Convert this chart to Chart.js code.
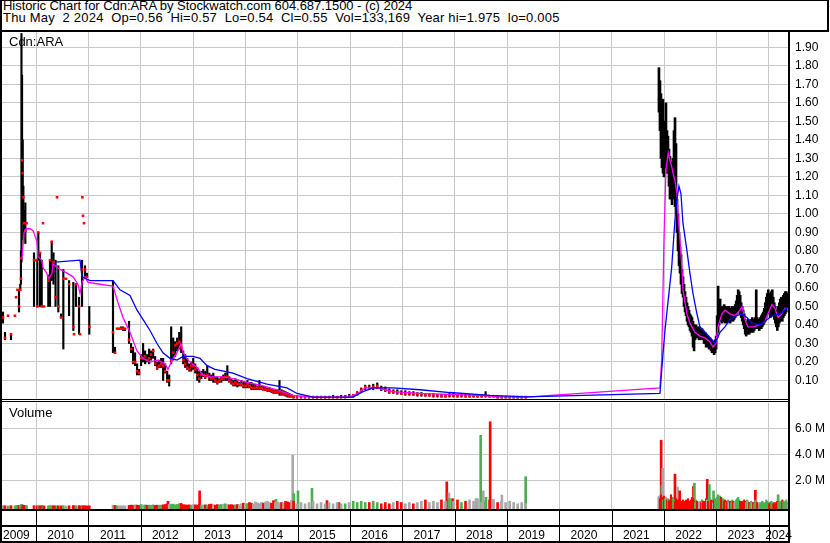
<!DOCTYPE html>
<html><head><meta charset="utf-8">
<script src="https://cdn.jsdelivr.net/npm/chart.js@4.4.1/dist/chart.umd.min.js"></script>
<style>
html,body{margin:0;padding:0;background:#fff;}
#wrap{position:relative;width:830px;height:543px;overflow:hidden;background:#fff;font-family:"Liberation Sans",Arial,sans-serif;color:#000;}
.ln{position:absolute;background:#000;}
.hd{position:absolute;left:3px;font-size:13px;line-height:13px;white-space:pre;letter-spacing:0.2px;}
.lbl{position:absolute;font-size:13px;line-height:15px;white-space:pre;}
canvas{position:absolute;left:0;}
</style></head><body>
<div id="wrap">
 <canvas id="pc" width="830" height="367" style="top:32px"></canvas>
 <canvas id="vc" width="830" height="140" style="top:403px"></canvas>
 <div class="hd" style="top:-1px;letter-spacing:-0.05px">Historic Chart for Cdn:ARA by Stockwatch.com 604.687.1500 - (c) 2024</div>
 <div class="hd" style="top:10.5px">Thu May  2 2024  Op=0.56  Hi=0.57  Lo=0.54  Cl=0.55  Vol=133,169  Year hi=1.975  lo=0.005</div>
 <div class="lbl" style="top:34px;left:9px">Cdn:ARA</div>
 <div class="lbl" style="top:405px;left:9px">Volume</div>
 <div class="ln" style="left:0;top:0;width:2px;height:543px"></div>
 <div class="ln" style="left:0;top:0;width:829px;height:1px"></div>
 <div class="ln" style="left:827px;top:0;width:2px;height:32px"></div>
 <div class="ln" style="left:0;top:30px;width:829px;height:2px"></div>
 <div class="ln" style="left:788px;top:30px;width:2px;height:513px"></div>
 <div class="ln" style="left:0;top:399px;width:790px;height:1px"></div>
 <div class="ln" style="left:0;top:401px;width:790px;height:1px"></div>
 <div class="ln" style="left:0;top:509px;width:790px;height:2px"></div>
 <div class="ln" style="left:0;top:525px;width:790px;height:2px"></div>
 <div class="ln" style="left:0;top:541px;width:790px;height:2px"></div>
</div>
<script>
// ---------------- DATA ----------------
const X_MIN = 2009.35, X_MAX = 2024.388;
const yearTicks = [2010,2011,2012,2013,2014,2015,2016,2017,2018,2019,2020,2021,2022,2023,2024];
const yearLabels = ['2009','2010','2011','2012','2013','2014','2015','2016','2017','2018','2019','2020','2021','2022','2023','2024'];
const priceTicks = [0.1,0.2,0.3,0.4,0.5,0.6,0.7,0.8,0.9,1.0,1.1,1.2,1.3,1.4,1.5,1.6,1.7,1.8,1.9];
const volTicks = [2,4,6];

// early, irregular trades (decimal years)
const earlyDates = [2009.369,2009.407,2009.465,2009.522,2009.598,2009.618,2009.646,2009.675,2009.699,2009.712,2009.722,2009.733,2009.746,2009.758,2009.771,2009.796,2009.818,2009.962,2010.000,2010.025,2010.044,2010.076,2010.109,2010.134,2010.153,2010.235,2010.267,2010.300,2010.334,2010.373,2010.401,2010.426,2010.478,2010.522,2010.573,2010.631,2010.713,2010.726,2010.764,2010.822,2010.841,2010.879,2010.885,2010.898,2010.917,2010.936,2010.974,2011.018];
const earlyLo = [0.41,0.32,0.45,0.32,0.45,0.55,0.59,0.47,0.59,0.62,0.74,1.05,0.95,0.86,0.91,0.84,0.95,0.50,0.75,0.50,0.75,0.50,0.50,0.95,0.50,0.50,0.50,0.64,0.62,0.50,1.09,0.47,0.44,0.27,0.65,0.45,0.37,0.35,0.50,0.35,0.35,0.50,1.09,0.99,0.95,0.66,0.66,0.35];
const earlyHi = [0.47,0.36,0.45,0.35,0.45,0.55,0.59,0.59,0.62,0.80,1.975,1.75,1.40,1.15,1.02,1.06,0.95,0.79,0.75,0.75,0.90,0.79,0.75,0.95,0.50,0.67,0.75,0.85,0.79,0.75,1.09,0.72,0.46,0.70,0.65,0.64,0.63,0.35,0.62,0.55,0.35,0.75,1.09,0.99,0.95,0.72,0.68,0.50];
const earlyCl = [0.44,0.33,0.45,0.35,0.45,0.55,0.59,0.50,0.59,0.65,0.76,1.29,1.22,1.09,0.95,0.91,0.95,0.75,0.75,0.50,0.90,0.79,0.50,0.95,0.50,0.64,0.75,0.85,0.74,0.55,1.09,0.50,0.44,0.65,0.65,0.62,0.39,0.35,0.62,0.50,0.35,0.70,1.09,0.99,0.95,0.70,0.66,0.39];
const earlyVol = [0.06,0.05,0.04,0.06,0.04,0.05,0.08,0.06,0.07,0.10,0.15,0.12,0.10,0.08,0.07,0.06,0.05,0.06,0.04,0.05,0.05,0.04,0.06,0.03,0.04,0.05,0.06,0.05,0.06,0.04,0.03,0.05,0.04,0.06,0.03,0.05,0.06,0.04,0.05,0.06,0.03,0.06,0.03,0.03,0.03,0.05,0.04,0.05];

// 2011-2014: one bar every 2 weeks from midStart
const midStart = 2011.471;
const midLo = [0.25,0.25,0.38,0.38,0.38,0.37,0.37,null,0.30,0.25,0.19,0.18,0.13,0.13,0.18,0.20,0.19,0.20,0.19,0.21,0.22,0.18,0.16,0.17,0.17,0.10,0.14,0.09,0.07,0.19,0.21,0.23,0.26,0.27,0.25,0.19,0.17,0.16,0.15,0.15,0.16,0.14,0.10,0.09,0.11,0.12,0.11,0.12,0.10,0.10,0.09,0.09,0.08,0.09,0.09,0.10,0.10,0.10,0.09,0.08,0.07,0.07,0.065,0.07,0.07,0.06,0.06,0.06,0.06,0.05,0.05,0.05,0.05,0.05,0.05,0.05,0.045,0.04,0.04,0.035,0.03,0.03,0.03,0.02,0.02,0.02,0.015,0.01,0.01,0.01,0.005];
const midHi = [0.64,0.28,0.38,0.38,0.39,0.39,0.38,null,0.42,0.30,0.28,0.25,0.19,0.16,0.24,0.30,0.26,0.24,0.27,0.26,0.27,0.23,0.20,0.21,0.22,0.22,0.19,0.15,0.13,0.39,0.33,0.31,0.33,0.36,0.39,0.26,0.24,0.22,0.19,0.20,0.22,0.19,0.17,0.15,0.15,0.16,0.15,0.18,0.14,0.13,0.14,0.12,0.12,0.11,0.12,0.13,0.14,0.18,0.12,0.11,0.10,0.11,0.10,0.09,0.10,0.09,0.09,0.10,0.09,0.09,0.08,0.08,0.07,0.10,0.07,0.07,0.065,0.06,0.06,0.055,0.05,0.05,0.05,0.10,0.05,0.045,0.04,0.035,0.03,0.025,0.02];
const midCl = [0.36,0.25,0.38,0.38,0.38,0.38,0.38,null,0.32,0.27,0.20,0.20,0.15,0.14,0.22,0.22,0.23,0.21,0.22,0.24,0.26,0.19,0.17,0.18,0.19,0.18,0.15,0.10,0.10,0.21,0.25,0.29,0.30,0.31,0.28,0.21,0.19,0.17,0.16,0.18,0.18,0.16,0.13,0.11,0.13,0.13,0.12,0.13,0.12,0.11,0.11,0.10,0.09,0.10,0.11,0.11,0.12,0.12,0.10,0.09,0.08,0.09,0.08,0.08,0.08,0.07,0.07,0.08,0.07,0.06,0.06,0.06,0.06,0.06,0.06,0.05,0.05,0.05,0.05,0.045,0.04,0.04,0.04,0.04,0.03,0.03,0.025,0.02,0.015,0.015,0.01];
const midVol = [0.10,0.08,0.05,0.04,0.05,0.04,0.05,null,0.08,0.10,0.09,0.12,0.10,0.08,0.15,0.10,0.12,0.09,0.10,0.08,0.12,0.08,0.10,0.09,0.10,0.12,0.15,0.20,0.15,0.15,0.18,0.12,0.15,0.20,0.16,0.14,0.12,0.10,0.12,0.10,0.14,0.12,0.10,0.15,0.12,0.10,0.12,0.10,0.15,0.18,0.12,0.10,0.14,0.12,0.15,0.18,0.20,0.15,0.12,0.14,0.10,0.12,0.15,0.14,0.20,0.25,0.18,0.22,0.30,0.25,0.20,0.35,0.28,0.22,0.30,0.25,0.35,0.40,0.30,0.25,0.45,0.30,0.35,0.28,0.30,0.25,0.40,0.35,0.30,0.45,0.40];

// 2015-2019: one bar every 4 weeks from lowStart
const lowStart = 2014.987;
const lowLo = [0.005,0.005,0.005,0.005,0.005,0.005,0.005,0.005,0.005,0.005,0.005,0.005,0.005,0.01,0.01,0.02,0.04,0.05,0.05,0.05,0.055,0.045,0.04,0.03,0.03,0.025,0.025,0.02,0.02,0.02,0.015,0.015,0.015,0.015,0.01,0.01,0.01,0.01,0.01,0.01,0.01,0.01,0.01,0.01,0.01,0.01,0.01,0.01,0.01,0.01,0.005,0.005,0.005,0.005,0.005,0.005,0.005,0.005];
const lowHi = [0.02,0.015,0.015,0.015,0.015,0.015,0.015,0.015,0.015,0.02,0.015,0.02,0.02,0.025,0.025,0.04,0.06,0.075,0.075,0.08,0.087,0.07,0.065,0.055,0.05,0.05,0.045,0.045,0.04,0.04,0.035,0.035,0.03,0.03,0.03,0.025,0.025,0.025,0.03,0.03,0.025,0.03,0.025,0.025,0.02,0.02,0.025,0.04,0.02,0.02,0.02,0.015,0.015,0.015,0.015,0.015,0.015,0.015];
const lowCl = [0.01,0.01,0.01,0.01,0.01,0.01,0.01,0.01,0.01,0.01,0.01,0.01,0.015,0.015,0.02,0.03,0.05,0.065,0.06,0.065,0.07,0.055,0.05,0.04,0.04,0.035,0.03,0.03,0.03,0.025,0.025,0.025,0.02,0.02,0.02,0.02,0.015,0.015,0.02,0.02,0.015,0.02,0.015,0.015,0.015,0.015,0.015,0.02,0.015,0.015,0.01,0.01,0.01,0.01,0.01,0.01,0.01,0.01];
const lowVol = [0.20,0.30,0.20,0.30,0.40,0.20,0.30,0.20,0.30,0.20,0.30,0.20,0.20,0.30,0.40,0.30,0.40,0.30,0.30,0.40,0.30,0.20,0.30,0.20,0.30,0.40,0.30,0.20,0.30,0.20,0.30,0.40,0.50,0.30,0.40,0.30,0.50,0.40,0.60,0.40,0.50,0.30,0.40,0.50,0.40,0.60,0.30,0.40,0.50,0.40,0.30,0.40,0.30,0.40,0.30,0.20,0.30,0.20];

// late 2021 - 2024: weekly bars from lateStart
const lateStart = 2021.903;
const lateLo = [1.55,1.45,1.30,1.25,1.22,1.20,1.25,1.28,1.22,1.22,1.15,1.08,1.10,1.05,1.08,1.15,1.04,1.00,0.90,0.80,0.72,0.68,0.62,0.57,0.55,0.50,0.47,0.45,0.42,0.40,0.39,0.37,0.36,0.34,0.28,0.26,0.32,0.33,0.34,0.33,0.32,0.33,0.32,0.33,0.32,0.30,0.30,0.28,0.29,0.28,0.27,0.27,0.26,0.25,0.25,0.24,0.25,0.27,0.33,0.36,0.40,0.42,0.42,0.41,0.42,0.42,0.41,0.42,0.41,0.42,0.42,0.41,0.42,0.43,0.42,0.43,0.44,0.45,0.46,0.48,0.47,0.46,0.44,0.42,0.40,0.38,0.35,0.34,0.35,0.36,0.35,0.36,0.36,0.37,0.36,0.37,0.38,0.38,0.38,0.38,0.37,0.38,0.38,0.39,0.40,0.41,0.42,0.44,0.46,0.47,0.46,0.44,0.45,0.46,0.45,0.43,0.41,0.39,0.37,0.39,0.41,0.42,0.43,0.42,0.44,0.45,0.46,0.47,0.49,0.54];
const lateHi = [1.79,1.72,1.65,1.55,1.62,1.50,1.50,1.60,1.45,1.42,1.35,1.31,1.28,1.25,1.30,1.45,1.52,1.38,1.08,1.00,0.90,0.82,0.78,0.70,0.66,0.62,0.58,0.55,0.52,0.50,0.48,0.46,0.45,0.44,0.42,0.40,0.40,0.40,0.39,0.38,0.39,0.38,0.37,0.38,0.37,0.36,0.36,0.35,0.34,0.34,0.33,0.33,0.32,0.31,0.31,0.30,0.32,0.34,0.45,0.61,0.52,0.54,0.50,0.49,0.50,0.51,0.50,0.50,0.49,0.50,0.50,0.49,0.49,0.50,0.49,0.50,0.51,0.53,0.56,0.59,0.58,0.56,0.52,0.50,0.48,0.46,0.43,0.42,0.42,0.43,0.42,0.42,0.43,0.44,0.42,0.43,0.44,0.59,0.44,0.43,0.43,0.44,0.45,0.46,0.47,0.49,0.52,0.55,0.57,0.59,0.57,0.54,0.58,0.59,0.55,0.52,0.50,0.48,0.48,0.50,0.52,0.54,0.55,0.53,0.56,0.57,0.58,0.58,0.57,0.57];
const lateCl = [1.62,1.55,1.40,1.35,1.50,1.30,1.45,1.45,1.30,1.35,1.25,1.20,1.15,1.10,1.25,1.40,1.30,1.10,0.95,0.85,0.78,0.72,0.66,0.62,0.58,0.55,0.50,0.48,0.45,0.44,0.43,0.42,0.40,0.38,0.36,0.34,0.36,0.37,0.36,0.35,0.35,0.35,0.34,0.35,0.34,0.33,0.32,0.31,0.31,0.30,0.29,0.30,0.28,0.27,0.27,0.26,0.28,0.31,0.40,0.45,0.46,0.48,0.46,0.45,0.47,0.46,0.45,0.46,0.45,0.46,0.46,0.45,0.46,0.47,0.45,0.47,0.47,0.49,0.50,0.52,0.53,0.50,0.47,0.45,0.43,0.41,0.38,0.38,0.39,0.39,0.38,0.39,0.40,0.40,0.39,0.40,0.41,0.42,0.41,0.40,0.40,0.41,0.42,0.43,0.44,0.45,0.47,0.50,0.52,0.53,0.51,0.49,0.52,0.53,0.50,0.47,0.45,0.43,0.42,0.44,0.46,0.47,0.48,0.47,0.49,0.50,0.52,0.53,0.55,0.55];
const lateVol = [0.8,0.6,0.9,0.7,0.5,0.8,0.6,0.7,0.5,0.6,0.4,0.5,0.9,0.6,0.7,0.5,0.4,0.6,0.5,0.4,0.5,0.6,0.4,0.3,0.5,0.4,0.3,0.5,0.4,0.6,0.3,0.4,0.5,0.7,0.6,0.4,0.3,0.5,0.4,0.3,0.3,0.4,0.3,0.5,0.4,0.3,0.4,0.6,0.5,0.4,0.3,0.4,0.5,0.4,0.3,0.5,0.6,0.4,0.7,0.9,0.6,0.8,0.7,0.5,0.6,0.4,0.5,0.3,0.4,0.5,0.3,0.4,0.3,0.5,0.4,0.3,0.4,0.5,0.6,0.7,0.5,0.4,0.3,0.4,0.3,0.5,0.4,0.3,0.5,0.4,0.3,0.2,0.4,0.3,0.3,0.2,0.5,0.4,0.3,0.2,0.3,0.2,0.3,0.4,0.3,0.2,0.3,0.5,0.4,0.3,0.2,0.3,0.4,0.3,0.2,0.3,0.2,0.3,0.4,0.3,0.3,0.4,0.3,0.5,0.4,0.3,0.4,0.5,0.3,0.2];

// heavy-volume days (M shares) and direction: u up, d down, n unchanged
const spikeDates = [2012.522,2012.770,2013.126,2014.585,2014.904,2014.925,2015.006,2015.273,2015.560,2015.789,2017.849,2017.891,2017.960,2018.407,2018.497,2018.546,2018.598,2018.678,2018.739,2018.902,2019.356,2021.903,2021.945,2021.957,2021.976,2022.209,2022.258,2022.299,2022.562,2022.581,2022.826,2022.866,2022.946,2023.745,2024.180];
const spikeVols = [0.40,0.24,1.20,0.55,3.95,1.00,1.20,1.40,0.45,0.30,1.90,1.05,0.60,0.60,5.50,1.20,0.70,6.55,0.55,0.88,2.30,0.70,5.12,1.60,2.95,2.50,1.50,1.20,1.55,1.80,2.10,1.70,1.20,1.25,0.90];
const spikeDir = ['d','d','d','u','n','u','u','u','d','d','d','n','d','n','u','n','u','d','n','n','u','u','d','u','n','d','n','d','d','u','d','u','u','d','u'];

// moving averages
const magDates = [2009.733,2009.771,2009.809,2009.885,2009.943,2009.981,2010.019,2010.038,2010.109,2010.134,2010.204,2010.248,2010.306,2010.325,2010.401,2010.459,2010.592,2010.707,2010.802,2010.841,2010.879,2010.936,2010.994,2011.223,2011.471,2011.567,2011.662,2011.796,2011.930,2012.044,2012.178,2012.331,2012.465,2012.522,2012.598,2012.694,2012.770,2012.809,2012.904,2013.076,2013.191,2013.324,2013.573,2013.764,2014.031,2014.280,2014.605,2014.910,2015.292,2015.999,2016.152,2016.286,2016.515,2016.630,2016.821,2017.337,2017.910,2018.483,2018.865,2019.362,2021.922,2021.955,2021.999,2022.037,2022.081,2022.113,2022.151,2022.171,2022.209,2022.247,2022.266,2022.304,2022.342,2022.362,2022.438,2022.495,2022.591,2022.686,2022.782,2022.877,2022.935,2022.992,2023.030,2023.107,2023.164,2023.260,2023.355,2023.451,2023.489,2023.546,2023.603,2023.699,2023.833,2023.928,2023.986,2024.062,2024.119,2024.177,2024.253,2024.310,2024.368];
const magVals = [0.76,0.90,0.92,0.92,0.91,0.88,0.85,0.77,0.75,0.71,0.68,0.65,0.68,0.73,0.71,0.70,0.68,0.66,0.62,0.57,0.63,0.66,0.63,0.62,0.61,0.52,0.44,0.36,0.26,0.22,0.20,0.21,0.19,0.16,0.21,0.25,0.30,0.25,0.21,0.17,0.13,0.12,0.12,0.11,0.09,0.075,0.05,0.02,0.01,0.01,0.03,0.06,0.06,0.054,0.04,0.03,0.025,0.02,0.012,0.01,0.06,0.21,0.86,1.24,1.33,1.29,1.25,1.22,1.18,1.11,1.00,0.86,0.71,0.59,0.46,0.41,0.36,0.34,0.33,0.31,0.28,0.30,0.39,0.46,0.48,0.46,0.45,0.48,0.50,0.43,0.39,0.39,0.40,0.42,0.46,0.51,0.49,0.44,0.46,0.49,0.49];
const blueDates = [2010.363,2010.841,2010.879,2011.032,2011.471,2011.605,2011.796,2011.930,2012.044,2012.178,2012.312,2012.426,2012.560,2012.694,2012.809,2013.000,2013.133,2013.267,2013.420,2013.764,2014.031,2014.413,2014.796,2014.987,2015.292,2016.057,2016.248,2016.439,2016.821,2017.337,2017.910,2018.674,2019.362,2021.922,2021.941,2021.985,2022.018,2022.146,2022.209,2022.247,2022.285,2022.323,2022.362,2022.438,2022.495,2022.553,2022.629,2022.686,2022.820,2022.916,2022.973,2023.069,2023.164,2023.260,2023.393,2023.489,2023.584,2023.680,2023.833,2023.966,2024.081,2024.215,2024.349];
const blueVals = [0.74,0.75,0.66,0.64,0.64,0.59,0.56,0.48,0.43,0.37,0.30,0.25,0.22,0.21,0.23,0.23,0.22,0.18,0.16,0.14,0.11,0.08,0.06,0.03,0.01,0.01,0.04,0.06,0.06,0.05,0.035,0.02,0.012,0.03,0.10,0.26,0.37,0.71,0.97,1.08,1.15,1.11,0.95,0.80,0.68,0.57,0.46,0.39,0.35,0.32,0.30,0.36,0.39,0.43,0.45,0.46,0.44,0.41,0.40,0.43,0.45,0.46,0.49];

// ---------------- BUILD ----------------
const RED = '#ff0000', GREEN = '#4caf50', GRAY = '#a8a8a8', GRID = '#c8c8c8';
const DAY = 1 / 365.25;
function regular(start, n, stepDays) { const a = []; for (let i = 0; i < n; i++) a.push(start + i * stepDays * DAY); return a; }
const midDates = regular(midStart, midLo.length, 14);
const lowDates = regular(lowStart, lowLo.length, 28);
const lateDates = regular(lateStart, lateLo.length, 7);

function hlData(d, lo, hi) { const o = []; d.forEach((x, i) => { if (lo[i] != null) o.push({x, y: [lo[i], hi[i]]}); }); return o; }
function ptData(d, v) { const o = []; d.forEach((x, i) => { if (v[i] != null) o.push({x, y: v[i]}); }); return o; }
function volSeg(d, v, cl) {
  const data = [], colors = []; let prev = null;
  d.forEach((x, i) => {
    if (v[i] == null) return;
    data.push({x, y: v[i]});
    const c = cl[i];
    colors.push(prev == null || c === prev ? GRAY : (c > prev ? GREEN : RED));
    prev = c;
  });
  return {data, colors};
}

Chart.defaults.font.family = '"Liberation Sans", Arial, sans-serif';
Chart.defaults.font.size = 12;
Chart.defaults.color = '#000';

const noPad = s => { s.paddingLeft = 0; s.paddingRight = 0; s.paddingTop = 0; s.paddingBottom = 0; };
const xGrid = {
  type: 'linear', min: X_MIN, max: X_MAX, offset: false,
  afterBuildTicks: s => { s.ticks = yearTicks.map(v => ({value: v})); },
  ticks: {display: false},
  grid: {color: GRID, lineWidth: 1, drawTicks: false, offset: false},
  border: {display: false},
  afterFit: s => { s.height = 0; noPad(s); }
};

function bars(d, lo, hi, th) {
  return {type: 'bar', data: hlData(d, lo, hi), backgroundColor: '#000', barThickness: th, grouped: false, order: 3};
}

new Chart(document.getElementById('pc'), {
  type: 'line',
  data: {datasets: [
    {type: 'scatter', data: ptData(lateDates, lateCl), pointStyle: 'rect', pointRadius: 1.6, backgroundColor: RED, borderWidth: 0, order: 6},
    bars(earlyDates, earlyLo, earlyHi, 1.5),
    bars(midDates, midLo, midHi, 1.5),
    bars(lowDates, lowLo, lowHi, 1.5),
    bars(lateDates, lateLo, lateHi, 2),
    {type: 'scatter', data: ptData(earlyDates, earlyCl).concat(ptData(midDates, midCl), ptData(lowDates, lowCl)), pointStyle: 'rect', pointRadius: 1.8, backgroundColor: RED, borderWidth: 0, order: 2},
    {type: 'line', data: magDates.map((x, i) => ({x, y: magVals[i]})), borderColor: '#ff00ff', borderWidth: 1.3, pointRadius: 0, tension: 0, fill: false, order: 1},
    {type: 'line', data: blueDates.map((x, i) => ({x, y: blueVals[i]})), borderColor: '#0000ff', borderWidth: 1.3, pointRadius: 0, tension: 0, fill: false, order: 0}
  ]},
  options: {
    responsive: false, animation: false, devicePixelRatio: 1,
    layout: {padding: {left: 2, right: 0, top: 0, bottom: 0}, autoPadding: false},
    plugins: {legend: {display: false}, tooltip: {enabled: false}},
    scales: {
      x: xGrid,
      y: {
        type: 'linear', position: 'right', min: 0, max: 1.983,
        afterBuildTicks: s => { s.ticks = priceTicks.map(v => ({value: v})); },
        ticks: {padding: 6, callback: v => v.toFixed(2), font: {size: 12}, color: '#000'},
        grid: {color: GRID, lineWidth: 1, drawTicks: false},
        border: {display: false},
        afterFit: s => { s.width = 41; noPad(s); }
      }
    }
  }
});

// volume
const vEarly = volSeg(earlyDates, earlyVol, earlyCl);
const vMid = volSeg(midDates, midVol, midCl);
const vLow = volSeg(lowDates, lowVol, lowCl);
const vLate = volSeg(lateDates, lateVol, lateCl);
const dirColor = {u: GREEN, d: RED, n: GRAY};
const V_MIN = -0.2, V_MAX = 8.0;
function volDs(seg, th) { return {type: 'bar', data: seg.data, backgroundColor: seg.colors, barThickness: th, grouped: false, base: V_MIN}; }

const labelPos = yearLabels.map((l, i) => {
  if (i === 0) return X_MIN + 0.275;
  const y = +l;
  return Math.min(y + 0.47, X_MAX - 0.2);
});

const bandLines = {
  id: 'bandLines',
  afterDraw(chart) {
    const {ctx, chartArea, scales} = chart;
    ctx.save();
    ctx.strokeStyle = '#000'; ctx.lineWidth = 1;
    yearTicks.forEach(yr => {
      const px = Math.round(scales.x.getPixelForValue(yr)) + 0.5;
      ctx.beginPath(); ctx.moveTo(px, chartArea.bottom); ctx.lineTo(px, chart.height); ctx.stroke();
    });
    ctx.restore();
  }
};

new Chart(document.getElementById('vc'), {
  type: 'bar',
  data: {datasets: [
    volDs(vEarly, 2), volDs(vMid, 2), volDs(vLow, 2), volDs(vLate, 1.5),
    {type: 'bar', data: spikeDates.map((x, i) => ({x, y: spikeVols[i]})), backgroundColor: spikeDir.map(d => dirColor[d]), barThickness: 2, grouped: false, base: V_MIN}
  ]},
  options: {
    responsive: false, animation: false, devicePixelRatio: 1,
    layout: {padding: {left: 2, right: 0, top: 0, bottom: 0}, autoPadding: false},
    plugins: {legend: {display: false}, tooltip: {enabled: false}},
    scales: {
      x: Object.assign({}, xGrid, {weight: 1}),
      xl: {
        type: 'linear', position: 'bottom', min: X_MIN, max: X_MAX, offset: false, weight: 2,
        afterBuildTicks: s => { s.ticks = labelPos.map(v => ({value: v})); },
        ticks: {autoSkip: false, maxRotation: 0, padding: 11.5, callback: (v, i) => yearLabels[i], font: {size: 12}, color: '#000'},
        grid: {display: false},
        border: {display: false},
        afterFit: s => { s.height = 34; noPad(s); }
      },
      y: {
        type: 'linear', position: 'right', min: V_MIN, max: V_MAX,
        afterBuildTicks: s => { s.ticks = volTicks.map(v => ({value: v})); },
        ticks: {padding: 6, callback: v => v.toFixed(1) + ' M', font: {size: 12}, color: '#000'},
        grid: {color: GRID, lineWidth: 1, drawTicks: false},
        border: {display: false},
        afterFit: s => { s.width = 41; noPad(s); }
      }
    }
  },
  plugins: [bandLines]
});
</script>
</body></html>
